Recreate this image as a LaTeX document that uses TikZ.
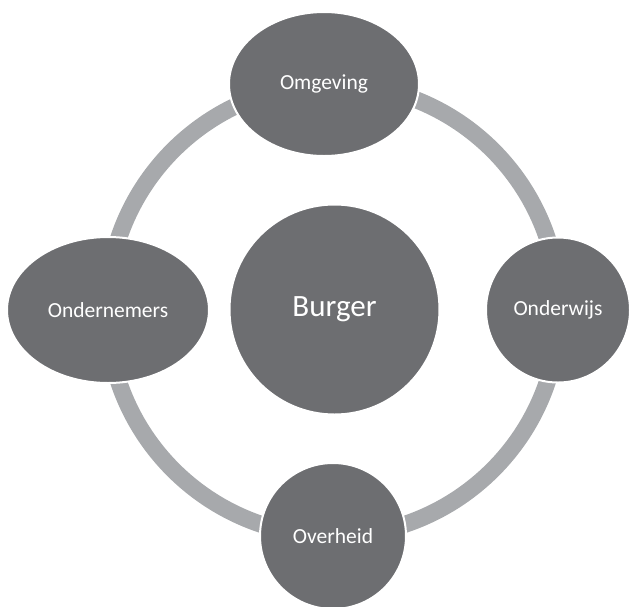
\documentclass[tikz,border=0pt]{standalone}
\usepackage{fontspec}
\setmainfont{Carlito}
\usetikzlibrary{shapes.geometric}
\definecolor{nodefill}{HTML}{6D6E71}
\definecolor{ringgray}{HTML}{A7A9AC}
\begin{document}
\begin{tikzpicture}[x=1pt,y=-1pt,
  blob/.style={ellipse, fill=nodefill, draw=white, line width=2pt, inner sep=0pt,
    text=white, font=\fontsize{21.5}{24}\selectfont},
  ring/.style={draw=ringgray, line width=17pt}]
\useasboundingbox (0,0) rectangle (629,606);
\clip (0,0) rectangle (629,606);
\coordinate (c) at (333,310);
\draw[ring] (c) circle[radius=226];
\node[blob, minimum width=190pt, minimum height=144pt] (omg) at (324,84) {Omgeving};
\node[blob, minimum width=202pt, minimum height=146pt] (ond) at (108,310) {Ondernemers};
\node[blob, minimum width=144pt, minimum height=145pt] (ondw) at (558,310) {Onderwijs};
\node[blob, minimum width=146pt, minimum height=146pt] (ovh) at (333,536) {Overheid};
\node[blob, minimum width=210pt, minimum height=210pt, font=\fontsize{31}{34}\selectfont] (burger) at (334.5,309.5) {Burger};
\end{tikzpicture}
\end{document}
